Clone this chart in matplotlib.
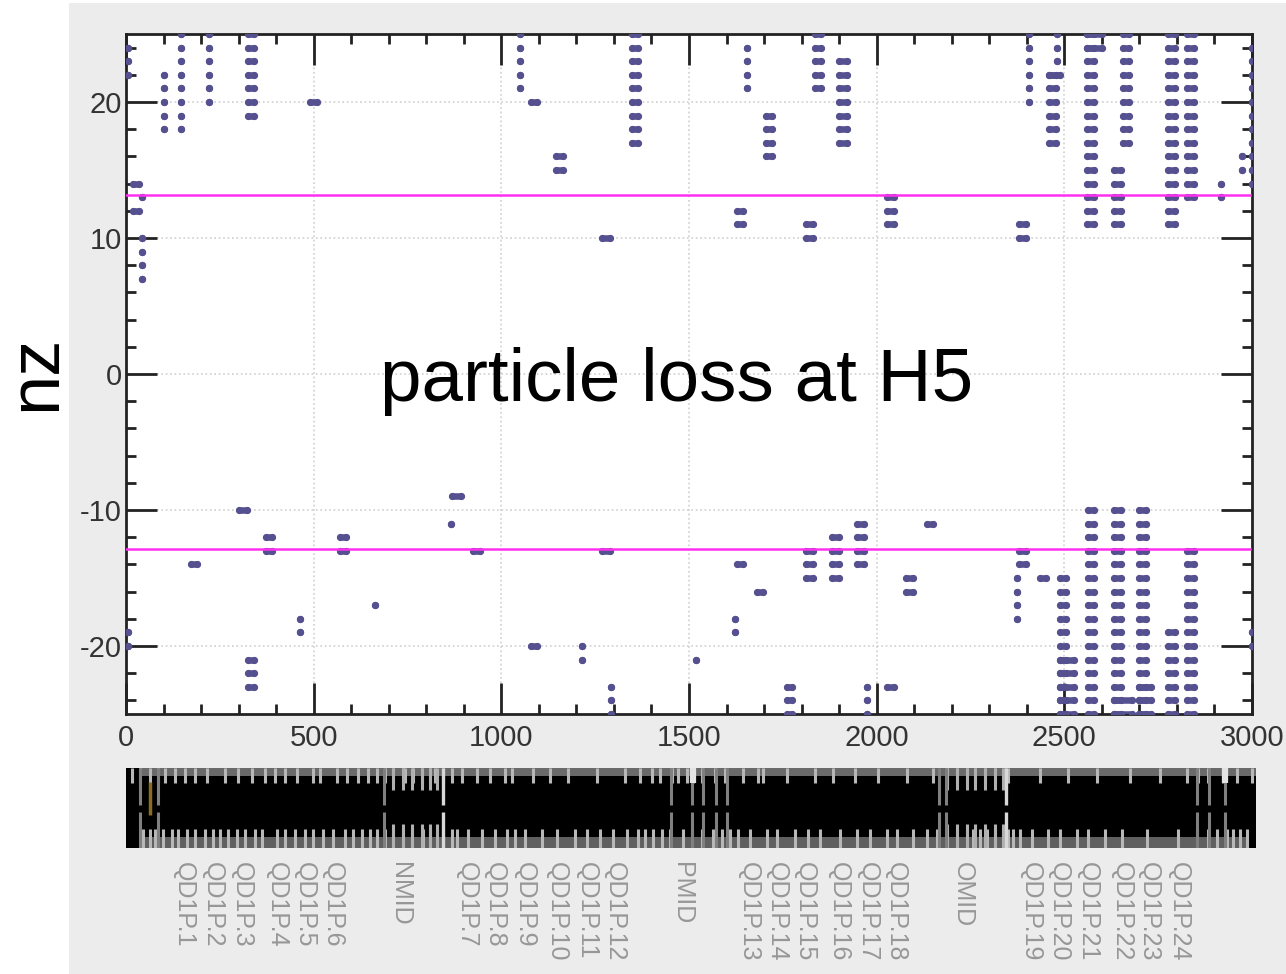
import matplotlib
matplotlib.use('Agg')
import matplotlib.pyplot as plt
from matplotlib.patches import Rectangle

plt.rcParams['font.family'] = ['Liberation Sans', 'DejaVu Sans']
plt.rcParams['axes.unicode_minus'] = False

# each column: x range, nz values
column_x = [
    [4], [18, 34], [42], [102], [147], [221], [325, 342], [490, 508], [1050], [1080, 1095],
    [1145, 1165], [1268, 1290], [1348, 1365], [1654], [1628, 1645], [1705, 1722], [1836, 1853],
    [1900, 1920], [1813, 1830], [2027, 2045], [2406], [2380, 2397], [2481], [2458, 2478],
    [2560, 2580], [2633, 2652], [2655, 2673], [2777, 2795], [2828, 2846], [2918], [2973], [3000],
    [173, 190], [300, 322], [325, 342], [372, 390], [464], [570, 586], [664], [865], [868, 892],
    [925, 943], [1080, 1095], [1216], [1268, 1290], [1291], [4], [1518], [1622], [1628, 1645],
    [1681, 1698], [1760, 1775], [1813, 1830], [1880, 1899], [1947, 1965], [1973], [2027, 2045],
    [2079, 2097], [2133, 2151], [2380, 2397], [2375], [2434, 2450], [2488, 2505], [2562, 2580],
    [2633, 2652], [2700, 2718], [2777, 2795], [2828, 2846], [3000],
]
column_nz = [
    [24, 23, 22], [14, 12], [13, 10, 9, 8, 7], [22, 21, 20, 19, 18], [25, 24, 23, 22, 21, 20, 19, 18],
    [25, 24, 23, 22, 21, 20], [25, 24, 23, 22, 21, 20, 19], [20], [25, 24, 23, 22, 21], [20],
    [16, 15], [10], [25, 24, 23, 22, 21, 20, 19, 18, 17], [24, 23, 22, 21], [12, 11],
    [19, 18, 17, 16], [25, 24, 23, 22, 21], [23, 22, 21, 20, 19, 18, 17], [11, 10], [13, 12, 11],
    [25, 24, 23, 22, 21, 20], [11, 10], [25, 24, 23], [22, 21, 20, 19, 18, 17],
    [25, 24, 23, 22, 21, 20, 19, 18, 17, 16, 15, 14, 13, 12, 11], [15, 14, 13, 12, 11],
    [25, 24, 23, 22, 21, 20, 19, 18, 17],
    [25, 24, 23, 22, 21, 20, 19, 18, 17, 16, 15, 14, 13, 12, 11],
    [25, 24, 23, 22, 21, 20, 19, 18, 17, 16, 15, 14, 13], [14, 13], [16, 15],
    [24, 23, 22, 21, 20, 19, 18, 17, 16, 15, 14],
    [-14], [-10], [-21, -22, -23], [-12, -13], [-18, -19], [-12, -13], [-17], [-11], [-9], [-13],
    [-20], [-20, -21], [-13], [-23, -24, -25], [-19, -20], [-21], [-18, -19], [-14], [-16],
    [-23, -24, -25], [-13, -14, -15], [-12, -13, -14, -15], [-11, -12, -13, -14], [-23, -24, -25],
    [-23], [-15, -16], [-11], [-13, -14], [-15, -16, -17, -18], [-15],
    [-15, -16, -17, -18, -19, -20, -21, -22, -23, -24, -25],
    [-10, -11, -12, -13, -14, -15, -16, -17, -18, -19, -20, -21, -22, -23, -24, -25],
    [-10, -11, -12, -13, -14, -15, -16, -17, -18, -19, -20, -21, -22, -23, -24, -25],
    [-10, -11, -12, -13, -14, -15, -16, -17, -18, -19, -20, -21, -22, -23, -24, -25],
    [-19, -20, -21, -22, -23, -24, -25],
    [-13, -14, -15, -16, -17, -18, -19, -20, -21, -22, -23, -24, -25], [-19, -20],
]
# rows that run wider than their column
wide_start = [2458, 2560, 2560, 2488, 2488, 2488, 2488, 2488, 2633, 2633, 2700, 2700, 2700]
wide_end = [2489, 2600, 2600, 2525, 2525, 2525, 2525, 2525, 2680, 2680, 2730, 2730, 2730]
wide_nz = [22, 25, 24, -21, -22, -23, -24, -25, -24, -25, -23, -24, -25]

loss_limits = [13.16, -12.87]
x_ticks = [0, 500, 1000, 1500, 2000, 2500, 3000]
y_ticks = [-20, -10, 0, 10, 20]

# lattice strip, measured along the picture
top_spikes = [132, 140, 150, 158, 165, 175, 185, 195, 207, 225, 238, 252, 265, 275, 285, 297, 313, 320,
              337, 347, 358, 368, 377, 385, 393, 403, 405, 413, 422, 430, 435, 443, 452, 462, 477, 490,
              505, 512, 533, 550, 568, 597, 625, 640, 652, 660, 672, 678, 687, 693, 702, 715, 725, 743,
              758, 763, 787, 815, 833, 855, 878, 907, 933, 947, 957, 967, 975, 985, 995, 1005, 1008,
              1040, 1068, 1097, 1130, 1160, 1187, 1198, 1208, 1223, 1237, 1252]
bottom_spikes = [143, 150, 155, 163, 172, 178, 187, 195, 205, 213, 220, 228, 237, 245, 255, 262, 277, 285,
                 295, 305, 313, 323, 333, 345, 353, 362, 370, 377, 385, 393, 403, 412, 423, 430, 437, 443,
                 452, 457, 468, 482, 495, 507, 515, 525, 542, 557, 575, 587, 600, 613, 627, 638, 645, 653,
                 662, 670, 683, 692, 702, 713, 722, 730, 738, 750, 767, 777, 795, 808, 820, 840, 857, 870,
                 887, 897, 913, 927, 937, 947, 957, 967, 973, 980, 987, 995, 1003, 1008, 1013, 1020, 1032,
                 1048, 1060, 1077, 1088, 1105, 1122, 1147, 1178, 1197, 1208, 1217, 1227, 1233, 1240, 1247]
sparse_spikes = [393, 403, 412, 422, 430, 437, 947, 957, 967, 975, 985, 995, 1003]
gray_gaps = [140, 158, 384, 671, 692, 703, 716, 727, 939, 946, 1197, 1209, 1225]
bright_gaps = [443, 1006]

label_text = ['QD1P.1', 'QD1P.2', 'QD1P.3', 'QD1P.4', 'QD1P.5', 'QD1P.6', 'NMID', 'QD1P.7', 'QD1P.8',
              'QD1P.9', 'QD1P.10', 'QD1P.11', 'QD1P.12', 'PMID', 'QD1P.13', 'QD1P.14', 'QD1P.15',
              'QD1P.16', 'QD1P.17', 'QD1P.18', 'OMID', 'QD1P.19', 'QD1P.20', 'QD1P.21', 'QD1P.22',
              'QD1P.23', 'QD1P.24']
label_pos = [184, 213, 242, 277, 305, 333, 400, 467, 495, 525, 557, 587, 615, 682, 749, 777, 805, 839,
             868, 896, 963, 1031, 1059, 1088, 1122, 1149, 1179]

W, H = 1286, 974
fig = plt.figure(figsize=(W / 100, H / 100), dpi=100, facecolor='white')

def box(left, top, right, bottom):
    return [left / W, 1 - bottom / H, (right - left) / W, (bottom - top) / H]

# grey panel behind everything
fig.add_artist(Rectangle((69 / W, 0), (W - 69) / W, 1 - 3 / H, transform=fig.transFigure,
                         facecolor='#ececec', edgecolor='none', zorder=-5))

ax = fig.add_axes(box(126, 34, 1252, 714))
ax.set_xlim(0, 3000)
ax.set_ylim(-25, 25)
ax.set_xticks(x_ticks)
ax.set_yticks(y_ticks)
ax.set_xticks(range(0, 3001, 100), minor=True)
ax.set_yticks(range(-24, 25, 2), minor=True)
ax.tick_params(which='major', direction='in', length=22, width=2, top=True, right=True,
               labelsize=21, labelcolor='#333333', color='#222222')
ax.tick_params(which='minor', direction='in', length=7.5, width=2, top=True, right=True, color='#222222')
ax.tick_params(axis='x', which='major', pad=7)
ax.tick_params(axis='y', which='major', pad=3)
ax.grid(which='major', color='#cfcfcf', linestyle=':', linewidth=1.2)
ax.set_axisbelow(True)
for s in ax.spines.values():
    s.set_linewidth(2)
    s.set_color('#222222')

dot = dict(color='#55508f', linewidth=4.7, solid_capstyle='round', marker='o', markersize=5.2,
           markeredgewidth=0, zorder=3)
for xs, nzs in zip(column_x, column_nz):
    for nz in nzs:
        ax.plot([xs[0], xs[-1]], [nz, nz], **dot)
for x0, x1, nz in zip(wide_start, wide_end, wide_nz):
    ax.plot([x0, x1], [nz, nz], **dot)

for y in loss_limits:
    ax.plot([0, 2995], [y, y], color='#ff30f0', linewidth=1.8, zorder=4)

# lattice strip
st = fig.add_axes(box(126, 768, 1256, 848))
st.set_xlim(126, 1256)
st.set_ylim(848, 768)
st.axis('off')
st.add_patch(Rectangle((126, 768), 1130, 80, facecolor='black', edgecolor='none'))
st.add_patch(Rectangle((140, 768), 1116, 8, facecolor='#6a6a6a', edgecolor='none', zorder=1))
st.add_patch(Rectangle((140, 837), 1108, 11, facecolor='#606060', edgecolor='none', zorder=1))
st.vlines(top_spikes, 768, 783, color='#b8b8b8', linewidth=2.2, zorder=2)
st.vlines(bottom_spikes, 829, 848, color='#b8b8b8', linewidth=2.2, zorder=2)
st.vlines(sparse_spikes, 768, 790, color='#b0b0b0', linewidth=2.2, zorder=2)
st.vlines(sparse_spikes, 824, 848, color='#b0b0b0', linewidth=2.2, zorder=2)
st.vlines(gray_gaps, 768, 805, color='#808080', linewidth=2.2, zorder=2)
st.vlines(gray_gaps, 812, 848, color='#808080', linewidth=2.2, zorder=2)
st.vlines(bright_gaps, 768, 805, color='#d8d8d8', linewidth=2.4, zorder=3)
st.vlines(bright_gaps, 812, 848, color='#d8d8d8', linewidth=2.4, zorder=3)
st.vlines([693, 1225], 768, 783, color='#e4e4e4', linewidth=4.5, zorder=3)
st.vlines([150], 782, 815, color='#8a6d20', linewidth=2.5, zorder=3)

for name, pos in zip(label_text, label_pos):
    fig.text(pos / W, 1 - 862 / H, name, rotation=270, ha='center', va='top', fontsize=18, color='#979797')

fig.text(677 / W, 1 - 382 / H, 'particle loss at H5', ha='center', va='center', fontsize=53.7, color='black')
fig.text(37 / W, 1 - 373 / H, 'nz', rotation=90, ha='center', va='center', fontsize=52, color='black')

fig.savefig('out.png', dpi=100)
